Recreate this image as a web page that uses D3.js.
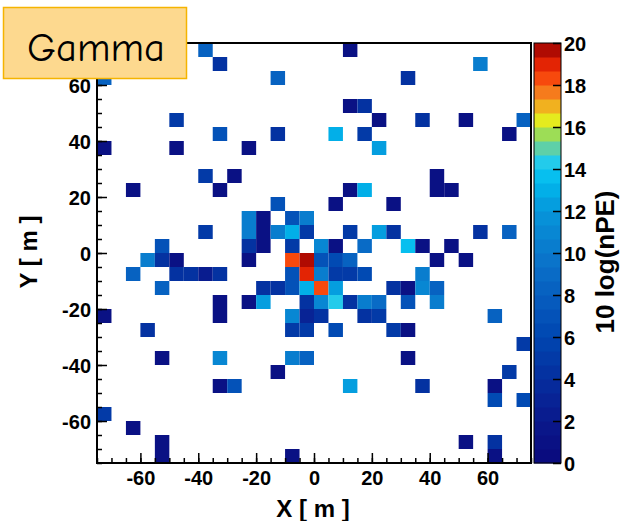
<!DOCTYPE html>
<html>
<head>
<meta charset="utf-8">
<script src="https://cdn.jsdelivr.net/npm/d3@7"></script>
<style>
  html, body { margin: 0; padding: 0; background: #fff; }
  svg { display: block; }
  .lbl { font-family: "Liberation Sans", Arial, Helvetica, sans-serif; font-weight: bold; }
</style>
</head>
<body>
<svg id="chart" width="621" height="521"></svg>
<script>
// ---- data: bin centres (metres) and 10 log(nPE) values ----
const binX = [
  -37.5, 12.5,
  -32.5, 57.5,
  -72.5, -12.5, 32.5,
  12.5, 17.5,
  -47.5, 22.5, 37.5, 52.5, 72.5,
  -32.5, -12.5, 7.5, 17.5, 67.5,
  -72.5, -47.5, -22.5, 22.5,
  -37.5, -27.5, 42.5,
  -62.5, -32.5, 12.5, 17.5, 42.5, 47.5,
  -12.5, 7.5, 27.5,
  -22.5, -17.5, -7.5, -2.5,
  -37.5, -22.5, -17.5, -12.5, -7.5, -2.5, 12.5, 22.5, 27.5, 57.5, 67.5,
  -52.5, -22.5, -17.5, -7.5, 2.5, 7.5, 17.5, 32.5, 37.5, 47.5,
  -57.5, -52.5, -47.5, -22.5, -7.5, -2.5, 2.5, 7.5, 12.5, 42.5, 52.5,
  -62.5, -47.5, -42.5, -37.5, -32.5, -7.5, -2.5, 2.5, 7.5, 12.5, 17.5, 37.5,
  -52.5, -17.5, -12.5, -7.5, -2.5, 2.5, 7.5, 27.5, 32.5, 37.5, 42.5,
  -32.5, -22.5, -17.5, -2.5, 2.5, 7.5, 12.5, 17.5, 22.5, 32.5, 42.5,
  -72.5, -32.5, -7.5, -2.5, 2.5, 17.5, 22.5, 62.5,
  -57.5, -7.5, -2.5, 7.5, 27.5, 32.5,
  72.5,
  -52.5, -32.5, -7.5, -2.5, 32.5,
  -12.5, 67.5,
  -32.5, -27.5, 12.5, 37.5, 62.5,
  62.5, 72.5,
  -72.5,
  -62.5,
  -52.5, 52.5, 62.5,
  -52.5, -7.5, 62.5
];
const binY = [
  72.5, 72.5,
  67.5, 67.5,
  62.5, 62.5, 62.5,
  52.5, 52.5,
  47.5, 47.5, 47.5, 47.5, 47.5,
  42.5, 42.5, 42.5, 42.5, 42.5,
  37.5, 37.5, 37.5, 37.5,
  27.5, 27.5, 27.5,
  22.5, 22.5, 22.5, 22.5, 22.5, 22.5,
  17.5, 17.5, 17.5,
  12.5, 12.5, 12.5, 12.5,
  7.5, 7.5, 7.5, 7.5, 7.5, 7.5, 7.5, 7.5, 7.5, 7.5, 7.5,
  2.5, 2.5, 2.5, 2.5, 2.5, 2.5, 2.5, 2.5, 2.5, 2.5,
  -2.5, -2.5, -2.5, -2.5, -2.5, -2.5, -2.5, -2.5, -2.5, -2.5, -2.5,
  -7.5, -7.5, -7.5, -7.5, -7.5, -7.5, -7.5, -7.5, -7.5, -7.5, -7.5, -7.5,
  -12.5, -12.5, -12.5, -12.5, -12.5, -12.5, -12.5, -12.5, -12.5, -12.5, -12.5,
  -17.5, -17.5, -17.5, -17.5, -17.5, -17.5, -17.5, -17.5, -17.5, -17.5, -17.5,
  -22.5, -22.5, -22.5, -22.5, -22.5, -22.5, -22.5, -22.5,
  -27.5, -27.5, -27.5, -27.5, -27.5, -27.5,
  -32.5,
  -37.5, -37.5, -37.5, -37.5, -37.5,
  -42.5, -42.5,
  -47.5, -47.5, -47.5, -47.5, -47.5,
  -52.5, -52.5,
  -57.5,
  -62.5,
  -67.5, -67.5, -67.5,
  -72.5, -72.5, -72.5
];
const binZ = [
  8, 1,
  4, 10,
  8, 8, 4,
  1, 4,
  5, 1, 4, 1, 8,
  7, 4, 13, 5, 1,
  1, 1, 1, 12,
  5, 1, 1,
  1, 1, 1, 13, 1, 1,
  7, 1, 1,
  10, 1, 7, 10,
  5, 10, 1, 10, 13, 5, 5, 12, 4, 4, 8,
  7, 4, 1, 5, 11, 1, 9, 13.5, 1, 1,
  10, 4, 1, 1, 18.3, 20, 7, 6, 8, 1, 1,
  8, 4, 4, 2, 4, 7, 19.2, 10, 5, 5, 6, 10,
  8, 4, 4, 7, 13, 18.6, 12, 4, 1, 11, 8,
  1, 1, 12, 4, 11, 14, 4, 10, 9, 7, 10,
  1, 1, 11, 3, 4, 4, 5, 8,
  4, 5, 5, 6, 5, 1,
  5,
  1, 11, 10, 8, 1,
  1, 5,
  1, 7, 12, 4, 1,
  6, 6,
  5,
  1,
  1, 1, 4,
  1, 1, 1
];
const xTicks = [-60, -40, -20, 0, 20, 40, 60];
const yTicks = [-60, -40, -20, 0, 20, 40, 60];
const zTicks = [0, 2, 4, 6, 8, 10, 12, 14, 16, 18, 20];
const paletteStops  = [0, 2, 4, 6, 8, 10, 12, 13.5, 14.3, 15, 15.7, 16.3, 16.8, 17.4, 18, 18.7, 19.3, 20];
const paletteColors = ["#0a0a7c", "#0a188c", "#052e9e", "#0046b0", "#075ebf", "#0a78cc", "#0696da", "#00bcef",
                       "#20cbee", "#5ed0a8", "#a0de52", "#e4ee1e", "#f0c21e", "#f49020", "#f86016", "#f63004",
                       "#d01804", "#920000"];
const nLevels = 30;

// ---- layout ----
const frame = { l: 97, r: 531, t: 43, b: 463 };
const bar = { l: 534, r: 561 };
const binW = 5;

const svg = d3.select("#chart");
const x = d3.scaleLinear().domain([-75, 75]).range([frame.l, frame.r]);
const y = d3.scaleLinear().domain([-75, 75]).range([frame.b, frame.t]);
const z = d3.scaleLinear().domain([0, 20]).range([frame.b, frame.t]);
const colorInterp = d3.scaleLinear().domain(paletteStops).range(paletteColors).interpolate(d3.interpolateRgb).clamp(true);
const step = 20 / nLevels;
const levelColor = v => {
  const k = Math.min(nLevels - 1, Math.max(0, Math.floor(v / step)));
  return colorInterp((k + 0.5) * step);
};
const fmt = d => String(d);

const cells = binX.map((bx, i) => ({ x: bx, y: binY[i], z: binZ[i] }));

// cells
svg.append("g").selectAll("rect").data(cells).join("rect")
  .attr("x", d => x(d.x - binW / 2))
  .attr("y", d => y(d.y + binW / 2))
  .attr("width", d => x(d.x + binW / 2) - x(d.x - binW / 2))
  .attr("height", d => y(d.y - binW / 2) - y(d.y + binW / 2))
  .attr("fill", d => levelColor(d.z));

// axes (ticks inward)
const minorVals = d3.range(-75, 76, 5);
const gxMinor = svg.append("g").attr("transform", `translate(0,${frame.b})`)
  .call(d3.axisBottom(x).tickValues(minorVals).tickSize(-5).tickFormat(""));
const gx = svg.append("g").attr("transform", `translate(0,${frame.b})`)
  .call(d3.axisBottom(x).tickValues(xTicks).tickSize(-10).tickFormat(fmt));
const gyMinor = svg.append("g").attr("transform", `translate(${frame.l},0)`)
  .call(d3.axisLeft(y).tickValues(minorVals).tickSize(-5).tickFormat(""));
const gy = svg.append("g").attr("transform", `translate(${frame.l},0)`)
  .call(d3.axisLeft(y).tickValues(yTicks).tickSize(-10).tickFormat(fmt));
[gxMinor, gx, gyMinor, gy].forEach(g => {
  g.select(".domain").remove();
  g.selectAll("line").attr("stroke", "#000").attr("stroke-width", 1.5);
});
gx.selectAll("text").attr("class", "lbl").attr("y", 8).attr("dy", "0.71em").attr("font-size", 20).attr("fill", "#000");
gy.selectAll("text").attr("class", "lbl").attr("x", -6).attr("dy", "0.35em").attr("font-size", 20).attr("fill", "#000");

// frame
svg.append("rect").attr("x", frame.l).attr("y", frame.t)
  .attr("width", frame.r - frame.l).attr("height", frame.b - frame.t)
  .attr("fill", "none").attr("stroke", "#000").attr("stroke-width", 2);

// axis titles
svg.append("text").attr("class", "lbl").attr("x", 313).attr("y", 517).attr("text-anchor", "middle")
  .attr("font-size", 24).text("X [ m ]");
svg.append("text").attr("class", "lbl").attr("transform", "translate(37,252) rotate(-90)").attr("text-anchor", "middle")
  .attr("font-size", 24).text("Y [ m ]");

// colour bar
const levels = d3.range(nLevels).map(k => k * step);
svg.append("g").selectAll("rect").data(levels).join("rect")
  .attr("x", bar.l).attr("width", bar.r - bar.l)
  .attr("y", d => z(d + step)).attr("height", d => z(d) - z(d + step) + 0.5)
  .attr("fill", d => levelColor(d + step / 2));
svg.append("rect").attr("x", bar.l).attr("y", frame.t).attr("width", bar.r - bar.l)
  .attr("height", frame.b - frame.t).attr("fill", "none").attr("stroke", "#000").attr("stroke-width", 1);
const gz = svg.append("g").attr("transform", `translate(${bar.r},0)`)
  .call(d3.axisRight(z).tickValues(zTicks).tickSize(-8).tickFormat(fmt));
gz.select(".domain").remove();
gz.selectAll("line").attr("stroke", "#000").attr("stroke-width", 1.5);
gz.selectAll("text").attr("class", "lbl").attr("x", 3).attr("dy", "0.35em").attr("font-size", 20).attr("fill", "#000");
svg.append("text").attr("class", "lbl").attr("transform", "translate(614,262) rotate(-90)").attr("text-anchor", "middle")
  .attr("font-size", 26).text("10 log(nPE)");

// Gamma label box
svg.append("rect").attr("x", 3.5).attr("y", 7.5).attr("width", 183).attr("height", 71)
  .attr("fill", "#fdd98f").attr("stroke", "#f5b400").attr("stroke-width", 1.5);
svg.append("text").attr("x", 27).attr("y", 61)
  .style("font-family", "'Comic Sans MS','Comic Neue','DejaVu Sans',sans-serif")
  .style("font-weight", "normal").attr("font-size", 40)
  .attr("textLength", 138).attr("lengthAdjust", "spacingAndGlyphs")
  .text("Gamma");
</script>
</body>
</html>
